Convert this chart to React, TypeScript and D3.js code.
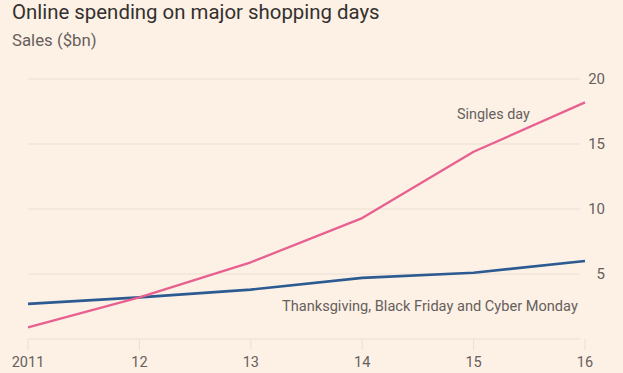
import * as d3 from 'd3';
import React from 'react';

const years = [2011, 2012, 2013, 2014, 2015, 2016];
const yearLabels = ['2011', '12', '13', '14', '15', '16'];
const singlesDay = [0.9, 3.2, 5.9, 9.3, 14.4, 18.2];
const usDays = [2.7, 3.2, 3.8, 4.7, 5.1, 6.0];
const yTicks = [0, 5, 10, 15, 20];

const W = 623, H = 373;

export default function App() {
  const x = d3.scaleLinear().domain([2011, 2016]).range([28, 585]);
  const y = d3.scaleLinear().domain([0, 20]).range([339, 79]);

  const line = d3.line<number>()
    .x((_, i) => x(years[i]))
    .y(d => y(d))
    .curve(d3.curveLinear);

  const font = 'Roboto, "Noto Sans", sans-serif';

  return (
    <div style={{ position: 'fixed', left: 0, top: 0 }}>
      <svg width={W} height={H} style={{ display: 'block', background: '#fdf1e6' }} fontFamily={font}>
        <text x={12} y={18.5} fontSize={20.4} fill="#33302e">Online spending on major shopping days</text>
        <text x={12} y={46} fontSize={16.8} fill="#66605c">Sales ($bn)</text>

        {/* grid + right axis */}
        {yTicks.map(t => (
          <g key={t}>
            <line x1={28} x2={580} y1={y(t)} y2={y(t)} stroke="#ebdfd4" strokeWidth={1} />
            {t > 0 && (
              <text x={605} y={y(t)} dy="0.35em" textAnchor="end" fontSize={15} fill="#66605c">{t}</text>
            )}
          </g>
        ))}

        {/* x ticks */}
        {years.map((yr, i) => (
          <g key={yr}>
            <line x1={x(yr)} x2={x(yr)} y1={y(0)} y2={y(0) + 11} stroke="#ebdfd4" strokeWidth={1} />
            <text x={x(yr)} y={367} textAnchor="middle" fontSize={14.5} fill="#66605c">{yearLabels[i]}</text>
          </g>
        ))}

        <path d={line(usDays) || ''} fill="none" stroke="#2c5b91" strokeWidth={2.6} strokeLinejoin="round" />
        <path d={line(singlesDay) || ''} fill="none" stroke="#e8608f" strokeWidth={2.3} strokeLinejoin="round" />

        <text x={457} y={119} fontSize={14.4} fill="#66605c">Singles day</text>
        <text x={282} y={311} fontSize={14.6} fill="#66605c">Thanksgiving, Black Friday and Cyber Monday</text>
      </svg>
    </div>
  );
}
